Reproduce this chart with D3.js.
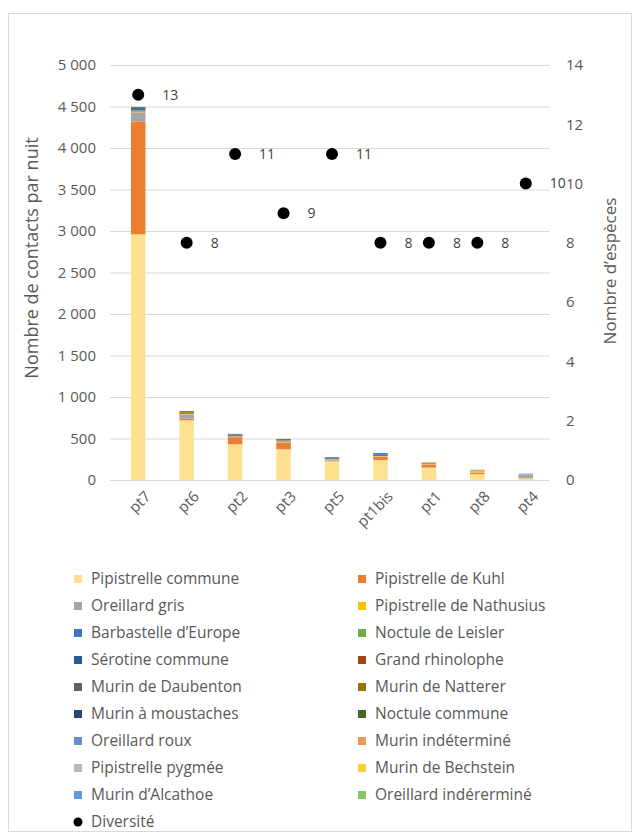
<!DOCTYPE html>
<html>
<head>
<meta charset="utf-8">
<script src="https://cdn.jsdelivr.net/npm/d3@7"></script>
<style>
  body { margin: 0; background: #fff; }
  text { font-family: "Open Sans", sans-serif; }
</style>
</head>
<body>
<script>
// points (x axis)
let points = ["pt7", "pt6", "pt2", "pt3", "pt5", "pt1bis", "pt1", "pt8", "pt4"];

// species in stacking / legend order
let species = [
  "Pipistrelle commune", "Pipistrelle de Kuhl", "Oreillard gris", "Pipistrelle de Nathusius",
  "Barbastelle d\u2019Europe", "Noctule de Leisler", "Sérotine commune", "Grand rhinolophe",
  "Murin de Daubenton", "Murin de Natterer", "Murin à moustaches", "Noctule commune",
  "Oreillard roux", "Murin indéterminé", "Pipistrelle pygmée", "Murin de Bechstein",
  "Murin d\u2019Alcathoe", "Oreillard indérerminé"
];

let pipCommune   = [2960, 720, 430, 370, 225, 240, 150, 70, 20];
let pipKuhl      = [1360, 20, 85, 80, 10, 40, 35, 15, 5];
let oreGris      = [110, 50, 5, 5, 15, 5, 5, 5, 30];
let pipNathusius = [10, 5, 5, 10, 5, 5, 5, 25, 0];
let barbastelle  = [15, 5, 5, 5, 15, 20, 0, 0, 5];
let noctLeisler  = [5, 0, 0, 5, 0, 0, 0, 0, 0];
let serotine     = [10, 0, 5, 0, 0, 10, 0, 0, 0];
let grandRhino   = [0, 0, 10, 5, 0, 0, 5, 0, 0];
let murDaubenton = [20, 10, 5, 5, 0, 0, 0, 0, 5];
let murNatterer  = [0, 20, 0, 0, 0, 0, 10, 0, 0];
let murMoust     = [5, 0, 5, 0, 5, 5, 0, 0, 0];
let noctCommune  = [0, 0, 0, 10, 0, 0, 0, 0, 0];
let oreRoux      = [0, 0, 0, 0, 0, 0, 0, 8, 0];
let murIndet     = [0, 0, 0, 0, 0, 0, 0, 0, 0];
let pipPygmee    = [0, 0, 0, 0, 0, 0, 0, 0, 15];
let murBechstein = [0, 0, 0, 0, 0, 0, 0, 0, 0];
let murAlcathoe  = [0, 0, 0, 0, 0, 0, 0, 0, 0];
let oreIndet     = [0, 0, 0, 0, 0, 0, 0, 0, 0];

let diversite = [13, 8, 11, 9, 11, 8, 8, 8, 10];

let leftTicks = [0, 500, 1000, 1500, 2000, 2500, 3000, 3500, 4000, 4500, 5000];
let rightTicks = [0, 2, 4, 6, 8, 10, 12, 14];

let colors = ["#FFE08F", "#ED7D31", "#A5A5A5", "#FFC000", "#4472C4", "#70AD47",
  "#255E91", "#9E480E", "#636363", "#997300", "#264478", "#43682B",
  "#698ED0", "#F1975A", "#B7B7B7", "#FFCD33", "#5B9BD5", "#8CC168"];

let seriesValues = [pipCommune, pipKuhl, oreGris, pipNathusius, barbastelle, noctLeisler,
  serotine, grandRhino, murDaubenton, murNatterer, murMoust, noctCommune,
  oreRoux, murIndet, pipPygmee, murBechstein, murAlcathoe, oreIndet];

let width = 635, height = 834;

let table = points.map((p, i) => {
  let row = { point: p };
  species.forEach((s, j) => { row[s] = seriesValues[j][i]; });
  return row;
});

let stack = d3.stack().keys(species)(table);

let svg = d3.select('body').append('svg')
  .attr('width', width)
  .attr('height', height);

svg.append('rect')
  .attr('x', 8.5).attr('y', 13.5)
  .attr('width', 623).attr('height', 818)
  .attr('fill', '#fff')
  .attr('stroke', '#d9d9d9');

let x = d3.scaleBand()
  .domain(points)
  .range([114, 550])
  .paddingInner(0.7)
  .paddingOuter(0.35);

let y = d3.scaleLinear().domain([0, 5000]).range([480, 65]);
let y2 = d3.scaleLinear().domain([0, 14]).range([480, 65]);

// gridlines
svg.append('g')
  .selectAll('line')
  .data(leftTicks)
  .enter()
  .append('line')
  .attr('x1', 110).attr('x2', 550)
  .attr('y1', d => y(d) + 0.5).attr('y2', d => y(d) + 0.5)
  .attr('stroke', '#d9d9d9')
  .attr('stroke-width', 1);

let fmt = d => d3.format(',')(d).replace(/,/g, ' ');

let yAxis = d3.axisLeft(y).tickValues(leftTicks).tickFormat(fmt).tickSize(0).tickPadding(0);
let gy = svg.append('g').attr('transform', 'translate(96,0)').call(yAxis);
gy.select('.domain').remove();
gy.selectAll('text').attr('fill', '#595959').attr('font-size', 15);

let y2Axis = d3.axisRight(y2).tickValues(rightTicks).tickSize(0).tickPadding(0);
let gy2 = svg.append('g').attr('transform', 'translate(566,0)').call(y2Axis);
gy2.select('.domain').remove();
gy2.selectAll('text').attr('fill', '#595959').attr('font-size', 15);

// stacked bars
svg.append('g')
  .selectAll('g')
  .data(stack)
  .enter()
  .append('g')
  .attr('fill', (d, i) => colors[i])
  .selectAll('rect')
  .data(d => d)
  .enter()
  .append('rect')
  .attr('x', d => x(d.data.point))
  .attr('width', x.bandwidth())
  .attr('y', d => y(d[1]))
  .attr('height', d => y(d[0]) - y(d[1]));

// x axis line + labels
svg.append('line')
  .attr('x1', 110).attr('x2', 550)
  .attr('y1', 480.5).attr('y2', 480.5)
  .attr('stroke', '#d9d9d9');

let xAxis = d3.axisBottom(x).tickSize(0).tickPadding(0);
let gx = svg.append('g').attr('transform', 'translate(0,490)').call(xAxis);
gx.select('.domain').remove();
gx.selectAll('text')
  .attr('fill', '#595959')
  .attr('font-size', 15)
  .attr('text-anchor', 'end')
  .attr('dy', '0.7em')
  .attr('transform', 'translate(6,0) rotate(-45)');

// diversity points
let xc = p => x(p) + x.bandwidth() / 2;
svg.append('g')
  .selectAll('circle')
  .data(diversite)
  .enter()
  .append('circle')
  .attr('cx', (d, i) => xc(points[i]))
  .attr('cy', d => y2(d))
  .attr('r', 6)
  .attr('fill', '#000');

svg.append('g')
  .selectAll('text')
  .data(diversite)
  .enter()
  .append('text')
  .attr('x', (d, i) => xc(points[i]) + 24)
  .attr('y', d => y2(d))
  .attr('dy', '0.35em')
  .attr('font-size', 14)
  .attr('fill', '#404040')
  .text(d => d);

// axis titles
svg.append('text')
  .attr('text-anchor', 'middle')
  .attr('transform', 'translate(38,258) rotate(-90)')
  .attr('font-size', 18)
  .attr('fill', '#595959')
  .text('Nombre de contacts par nuit');

svg.append('text')
  .attr('text-anchor', 'middle')
  .attr('transform', 'translate(616,271) rotate(-90)')
  .attr('font-size', 17)
  .attr('fill', '#595959')
  .text('Nombre d\u2019espèces');

// legend
let legendItems = species.map((s, i) => ({ name: s, color: colors[i], dot: false }));
legendItems.push({ name: 'Diversité', color: '#000', dot: true });

let leg = svg.append('g')
  .selectAll('g')
  .data(legendItems)
  .enter()
  .append('g')
  .attr('transform', (d, i) => 'translate(' + (i % 2 === 0 ? 78 : 362) + ',' + (579 + Math.floor(i / 2) * 27) + ')');

leg.filter(d => !d.dot).append('rect')
  .attr('x', -4).attr('y', -4)
  .attr('width', 8).attr('height', 8)
  .attr('fill', d => d.color);

leg.filter(d => d.dot).append('circle')
  .attr('r', 4.5)
  .attr('fill', '#000');

leg.append('text')
  .attr('x', 13)
  .attr('dy', '0.35em')
  .attr('font-size', 15.5)
  .attr('fill', '#595959')
  .text(d => d.name);
</script>
</body>
</html>
